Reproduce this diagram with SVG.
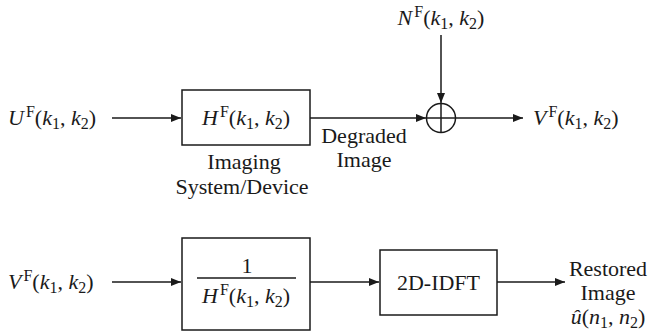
<svg xmlns="http://www.w3.org/2000/svg" width="651" height="333" viewBox="0 0 651 333" font-family="'Liberation Serif', 'Times New Roman', Times, 'DejaVu Serif', serif">
<style>
text{font-family:'Liberation Serif','Times New Roman',Times,'DejaVu Serif',serif;font-size:22px;fill:#1a1a1a}
.i{font-style:italic}
.s{font-size:16px}
.box{fill:#fff;stroke:#1a1a1a;stroke-width:1.5}
.ln{fill:none;stroke:#1a1a1a;stroke-width:1.5}
</style>
<defs>
<marker id="ah" viewBox="0 0 10 8" refX="10" refY="4" markerWidth="10" markerHeight="8" markerUnits="userSpaceOnUse" orient="auto">
<path d="M0,0 L10,4 L0,8 z" fill="#1a1a1a"/>
</marker>
</defs>
<g id="connectors">
<line class="ln" x1="112" y1="118" x2="181" y2="118" marker-end="url(#ah)"/>
<line class="ln" x1="310" y1="118" x2="426" y2="118" marker-end="url(#ah)"/>
<line class="ln" x1="441" y1="35" x2="441" y2="103" marker-end="url(#ah)"/>
<line class="ln" x1="455" y1="118" x2="523" y2="118" marker-end="url(#ah)"/>
<line class="ln" x1="112" y1="282" x2="181" y2="282" marker-end="url(#ah)"/>
<line class="ln" x1="310" y1="282" x2="379" y2="282" marker-end="url(#ah)"/>
<line class="ln" x1="497" y1="282" x2="565" y2="282" marker-end="url(#ah)"/>
</g>
<g id="input-U">
<text x="8" y="125"><tspan class="i">U</tspan><tspan class="s" dx="2" dy="-8">F</tspan><tspan dy="8">(</tspan><tspan class="i">k</tspan><tspan class="s" dy="4">1</tspan><tspan dy="-4">, </tspan><tspan class="i">k</tspan><tspan class="s" dy="4">2</tspan><tspan dy="-4">)</tspan></text>
</g>
<g id="imaging-system">
<rect class="box" x="182" y="90" width="128" height="55"/>
<text x="246" y="125" text-anchor="middle"><tspan class="i">H</tspan><tspan class="s" dx="2" dy="-8">F</tspan><tspan dy="8">(</tspan><tspan class="i">k</tspan><tspan class="s" dy="4">1</tspan><tspan dy="-4">, </tspan><tspan class="i">k</tspan><tspan class="s" dy="4">2</tspan><tspan dy="-4">)</tspan></text>
<text x="244" y="169" text-anchor="middle">Imaging</text>
<text x="242" y="194" text-anchor="middle">System/Device</text>
</g>
<g id="degraded-label">
<text x="364" y="143" text-anchor="middle">Degraded</text>
<text x="364" y="167" text-anchor="middle">Image</text>
</g>
<g id="noise">
<text x="441" y="25" text-anchor="middle"><tspan class="i">N</tspan><tspan class="s" dx="2" dy="-8">F</tspan><tspan dy="8">(</tspan><tspan class="i">k</tspan><tspan class="s" dy="4">1</tspan><tspan dy="-4">, </tspan><tspan class="i">k</tspan><tspan class="s" dy="4">2</tspan><tspan dy="-4">)</tspan></text>
</g>
<g id="adder">
<circle class="box" cx="441" cy="118" r="14.5"/>
<line class="ln" x1="426.5" y1="118" x2="455.5" y2="118"/>
<line class="ln" x1="441" y1="103.5" x2="441" y2="132.5"/>
</g>
<g id="output-V">
<text x="533" y="125"><tspan class="i">V</tspan><tspan class="s" dx="2" dy="-8">F</tspan><tspan dy="8">(</tspan><tspan class="i">k</tspan><tspan class="s" dy="4">1</tspan><tspan dy="-4">, </tspan><tspan class="i">k</tspan><tspan class="s" dy="4">2</tspan><tspan dy="-4">)</tspan></text>
</g>
<g id="input-V">
<text x="8" y="289"><tspan class="i">V</tspan><tspan class="s" dx="2" dy="-8">F</tspan><tspan dy="8">(</tspan><tspan class="i">k</tspan><tspan class="s" dy="4">1</tspan><tspan dy="-4">, </tspan><tspan class="i">k</tspan><tspan class="s" dy="4">2</tspan><tspan dy="-4">)</tspan></text>
</g>
<g id="inverse-filter">
<rect class="box" x="182" y="238" width="128" height="92"/>
<text x="247" y="273" text-anchor="middle">1</text>
<line class="ln" x1="197" y1="278" x2="296" y2="278"/>
<text x="246" y="303" text-anchor="middle"><tspan class="i">H</tspan><tspan class="s" dx="2" dy="-8">F</tspan><tspan dy="8">(</tspan><tspan class="i">k</tspan><tspan class="s" dy="4">1</tspan><tspan dy="-4">, </tspan><tspan class="i">k</tspan><tspan class="s" dy="4">2</tspan><tspan dy="-4">)</tspan></text>
</g>
<g id="idft">
<rect class="box" x="380" y="250" width="117" height="65"/>
<text x="438.5" y="290" text-anchor="middle">2D-IDFT</text>
</g>
<g id="restored">
<text x="608" y="276" text-anchor="middle">Restored</text>
<text x="608" y="300" text-anchor="middle">Image</text>
<text x="608" y="324" text-anchor="middle"><tspan class="i">û</tspan>(<tspan class="i">n</tspan><tspan class="s" dy="4">1</tspan><tspan dy="-4">, </tspan><tspan class="i">n</tspan><tspan class="s" dy="4">2</tspan><tspan dy="-4">)</tspan></text>
</g>
</svg>
